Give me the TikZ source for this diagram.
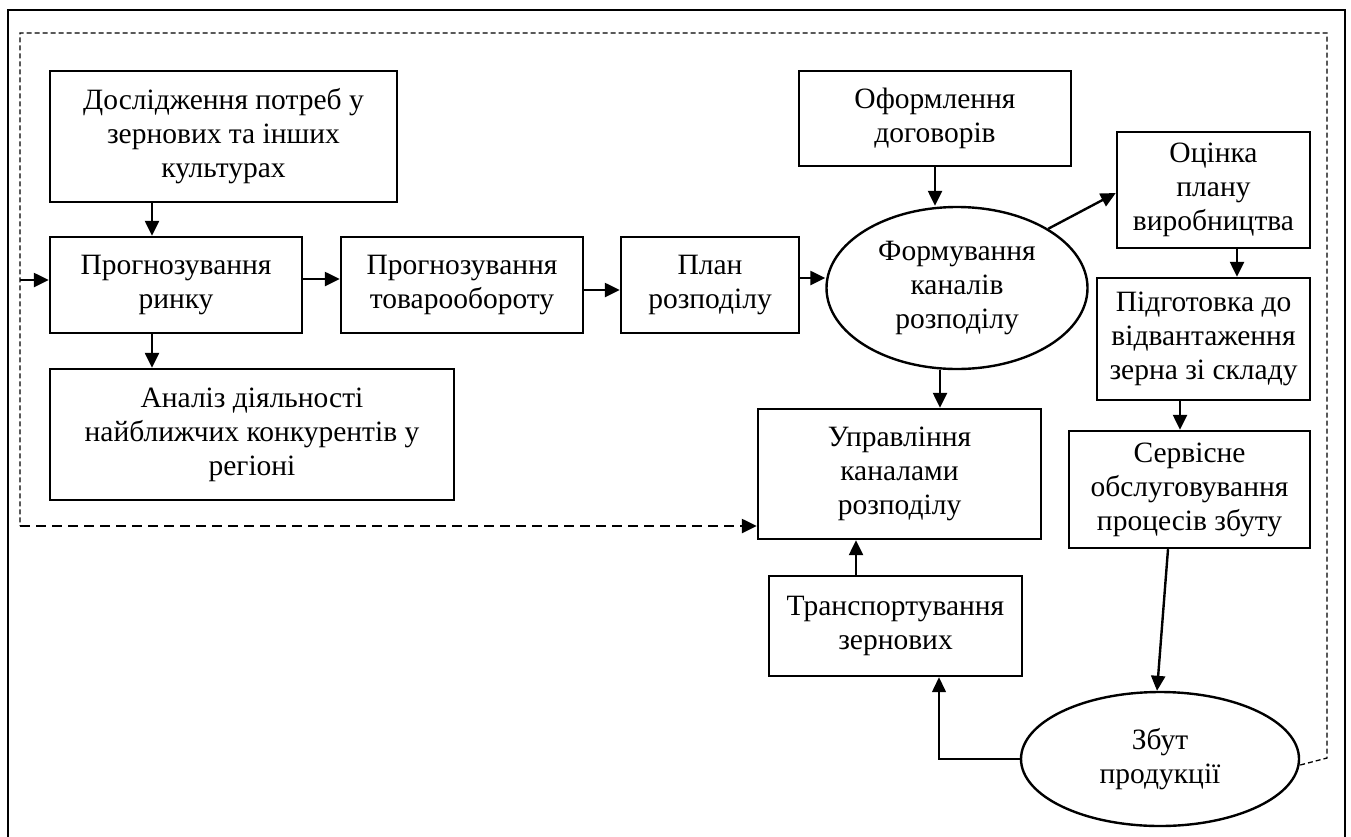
\documentclass[tikz,border=0pt]{standalone}
\usepackage{fontspec}
\setmainfont{Liberation Serif}
\usetikzlibrary{arrows.meta, positioning, shapes.geometric}

\begin{document}
\begin{tikzpicture}[
  x=1pt, y=-1pt,
  box/.style={draw, line width=2.4pt, align=center, inner sep=0pt, font=\fontsize{29.5}{34}\selectfont},
  oval/.style={draw, ellipse, line width=2.4pt, align=center, inner sep=0pt, font=\fontsize{29.5}{34}\selectfont},
  link/.style={->, line width=2.4pt},
  thinlink/.style={->, line width=1.4pt},
  loopline/.style={line width=1.3pt, dash pattern=on 5pt off 3pt},
  backline/.style={->, line width=2.4pt, dash pattern=on 10pt off 6pt},
  >={Triangle[length=15pt, width=14pt]}
]
\useasboundingbox (0,0) rectangle (1351,836);
\clip (0,0) rectangle (1351,836);

% outer frame
\draw[line width=2.8pt] (8,860) -- (8,10) -- (1345,10) -- (1345,860);

\node[box, minimum width=347pt, minimum height=131pt] (doslid) at (223.5,136.5) {Дослідження потреб у\\зернових та інших\\культурах};
\node[box, minimum width=252pt, minimum height=96pt] (rynok) at (176,285) {Прогнозування\\ринку};
\node[box, minimum width=404pt, minimum height=131pt] (analiz) at (252,434.5) {Аналіз діяльності\\найближчих конкурентів у\\регіоні};
\node[box, minimum width=242pt, minimum height=96pt] (tovar) at (462,285) {Прогнозування\\товарообороту};
\node[box, minimum width=178pt, minimum height=96pt] (plan) at (710,285) {План\\розподілу};
\node[oval, minimum width=261pt, minimum height=162pt] (form) at (957,288) {Формування\\каналів\\розподілу};
\node[box, minimum width=272pt, minimum height=95pt] (oform) at (935,118.5) {Оформлення\\договорів};
\node[box, minimum width=193pt, minimum height=116pt] (otsinka) at (1213.5,190) {Оцінка\\плану\\виробництва};
\node[box, minimum width=213pt, minimum height=122pt] (pidgot) at (1203.5,339) {Підготовка до\\відвантаження\\зерна зі складу};
\node[box, minimum width=241pt, minimum height=117pt] (servis) at (1189.5,489.5) {Сервісне\\обслуговування\\процесів збуту};
\node[box, minimum width=283pt, minimum height=130pt] (uprav) at (899.5,474) {Управління\\каналами\\розподілу};
\node[box, minimum width=253pt, minimum height=100pt] (transp) at (895.5,626) {Транспортування\\зернових};
\node[oval, minimum width=278pt, minimum height=134pt] (zbut) at (1160,759) {Збут\\продукції};

% dashed loop
\coordinate (dr) at (1327,758);
\coordinate (dtr) at (1327,33);
\coordinate (dtl) at (20,33);
\coordinate (dbl) at (20,526);
\coordinate (din) at (20,280);

\draw[link] ([xshift=-71.5pt]doslid.south) -- ([xshift=-24pt]rynok.north);
\draw[link] ([xshift=-24pt]rynok.south) -- ([xshift=-100pt]analiz.north);
\draw[link] ([yshift=6pt]rynok.east) -- ([yshift=6pt]rynok.east -| tovar.west);
\draw[link] ([yshift=-5pt]tovar.east) -- ([yshift=-5pt]tovar.east -| plan.west);
\draw[link] ([yshift=7pt]plan.east) -- ([yshift=7pt]plan.east -| form.west);
\draw[link] (din) -- (din -| rynok.west);
\draw[link] (oform.south) -- (oform.south |- form.north);
\draw[link] (form.33) -- ([yshift=-3pt]otsinka.west);
\draw[link] ([xshift=-17pt]form.south) -- ([xshift=-17pt]form.south |- uprav.north);
\draw[link] ([xshift=23.5pt]otsinka.south) -- ([xshift=23.5pt]otsinka.south |- pidgot.north);
\draw[link] ([xshift=-23.5pt]pidgot.south) -- ([xshift=-23.5pt]pidgot.south |- servis.north);
\draw[link] ([xshift=-21.5pt]servis.south) -- ([xshift=-3pt]zbut.north);
\draw[link] ([xshift=-39.5pt]transp.north) -- ([xshift=-39.5pt]transp.north |- uprav.south);
\draw[thinlink] (zbut.west) -| ([xshift=43.5pt]transp.south);

\draw[loopline] ([yshift=-6pt]zbut.east) -- (dr) -- (dtr) -- (dtl) -- (dbl);
\draw[backline] (dbl) -- (dbl -| uprav.west);
\end{tikzpicture}
\end{document}
